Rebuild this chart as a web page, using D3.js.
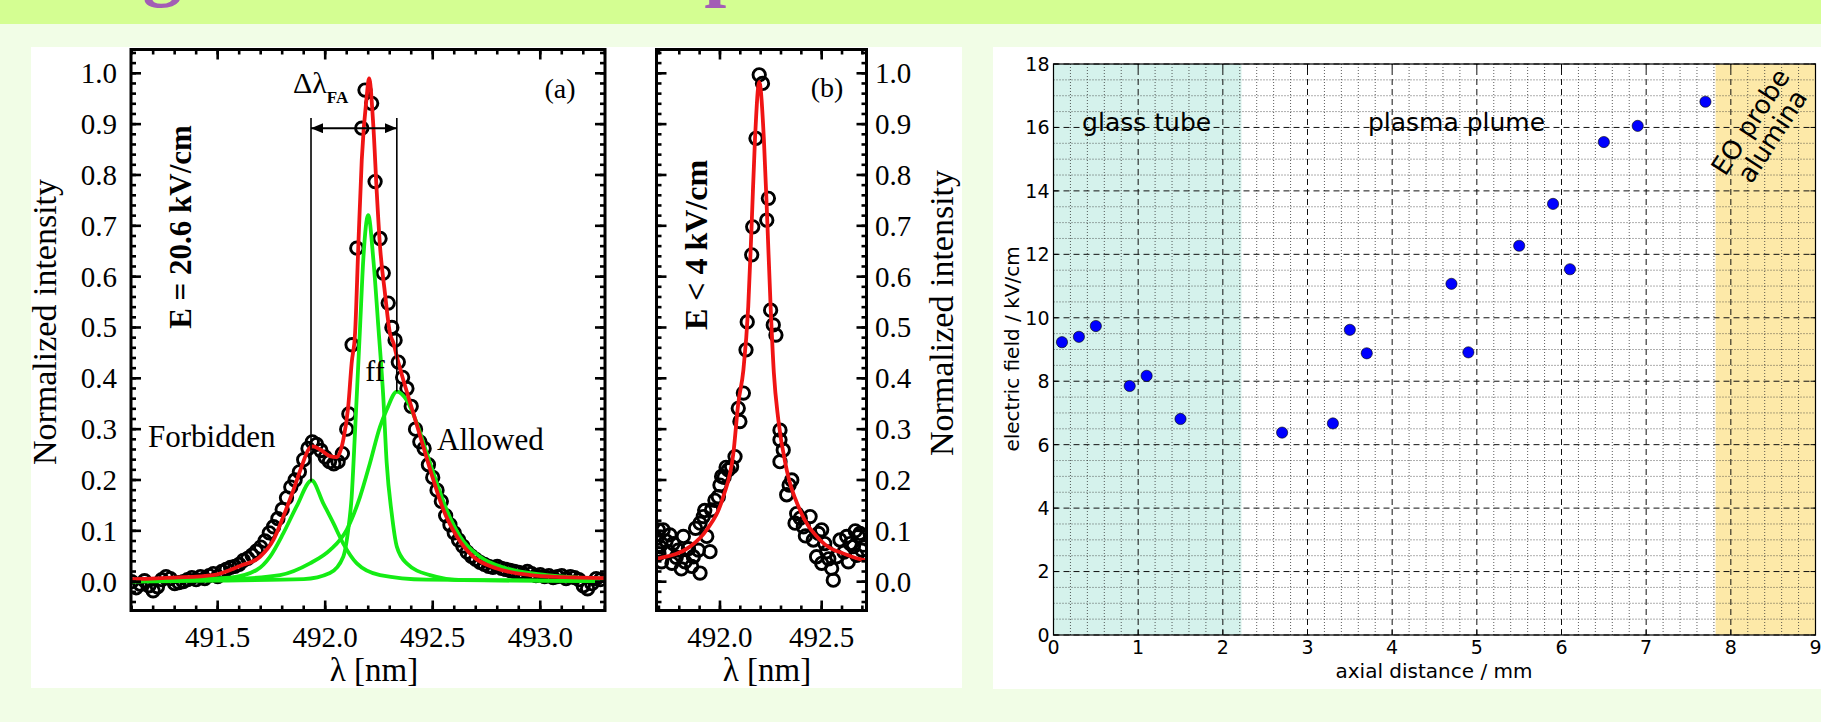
<!DOCTYPE html>
<html><head><meta charset="utf-8">
<script src="https://cdn.jsdelivr.net/npm/d3@7"></script>
<style>html,body{margin:0;padding:0;background:#f1fde6;overflow:hidden}</style>
</head><body><svg id="c" width="1821" height="722"></svg>
<script>
// ---------------- DATA ----------------
const titleText = "Diagnostics: E-field profile";

// Panel (a): measured spectrum (open circles), E = 20.6 kV/cm
const specA_lambda = [491.10,491.12,491.14,491.16,491.18,491.20,491.22,491.24,491.26,491.28,491.30,491.32,491.34,491.36,491.38,491.40,491.42,491.44,491.46,491.48,491.50,491.52,491.54,491.56,491.58,491.60,491.62,491.64,491.66,491.68,491.70,491.72,491.74,491.76,491.78,491.80,491.82,491.84,491.86,491.88,491.90,491.92,491.94,491.96,491.98,492.00,492.02,492.04,492.06,492.08,492.10,492.11,492.125,492.147,492.17,492.185,492.216,492.232,492.255,492.27,492.293,492.31,492.325,492.34,492.36,492.38,492.40,492.42,492.44,492.46,492.48,492.50,492.52,492.54,492.56,492.58,492.60,492.62,492.64,492.66,492.68,492.70,492.72,492.74,492.76,492.78,492.80,492.82,492.84,492.86,492.88,492.90,492.92,492.94,492.96,492.98,493.00,493.02,493.04,493.06,493.08,493.10,493.12,493.14,493.16,493.18,493.20,493.22,493.24,493.26,493.28];
const specA_int = [0.000,-0.012,-0.005,0.002,-0.008,-0.018,-0.010,0.004,0.010,0.006,-0.004,-0.002,0.000,0.004,0.008,0.004,0.010,0.006,0.012,0.016,0.010,0.020,0.024,0.028,0.030,0.034,0.042,0.046,0.052,0.060,0.068,0.080,0.096,0.108,0.124,0.142,0.165,0.186,0.200,0.216,0.240,0.262,0.275,0.270,0.258,0.245,0.236,0.232,0.236,0.252,0.300,0.330,0.466,0.656,0.892,0.967,0.941,0.787,0.675,0.607,0.548,0.500,0.475,0.432,0.402,0.380,0.345,0.300,0.275,0.262,0.230,0.205,0.180,0.158,0.130,0.112,0.096,0.082,0.070,0.058,0.050,0.044,0.038,0.034,0.030,0.028,0.030,0.026,0.024,0.022,0.020,0.018,0.016,0.020,0.016,0.012,0.014,0.010,0.012,0.008,0.010,0.012,0.006,0.010,0.008,0.004,-0.008,-0.014,-0.004,0.006,0.004];

// Panel (a): total fit (red)
const fitA_lambda = [491.10,491.30,491.48,491.604,491.697,491.759,491.805,491.852,491.89,491.921,491.942,491.976,492.022,492.053,492.084,492.107,492.123,492.139,492.154,492.170,492.193,492.204,492.224,492.240,492.255,492.278,492.301,492.317,492.333,492.363,492.41,492.456,492.503,492.55,492.612,492.689,492.798,492.953,493.107,493.30];
const fitA_int = [0.005,0.008,0.013,0.031,0.049,0.082,0.128,0.180,0.226,0.259,0.266,0.260,0.247,0.245,0.279,0.344,0.430,0.490,0.660,0.830,0.955,0.990,0.895,0.764,0.659,0.567,0.489,0.470,0.443,0.397,0.331,0.266,0.200,0.141,0.089,0.049,0.026,0.013,0.009,0.007];

// Panel (a): fit components (green)
const forbidden_lambda = [491.10,491.557,491.681,491.743,491.805,491.867,491.937,491.991,492.038,492.084,492.147,492.255,492.47,493.30];
const forbidden_int = [0.001,0.008,0.023,0.049,0.095,0.148,0.199,0.154,0.115,0.075,0.036,0.013,0.004,0.001];
const ff_lambda = [491.10,491.50,491.90,492.022,492.084,492.107,492.123,492.139,492.162,492.177,492.200,492.224,492.247,492.270,492.286,492.309,492.333,492.379,492.487,492.64,493.30];
const ff_int = [0.000,0.002,0.005,0.017,0.049,0.102,0.167,0.298,0.500,0.633,0.721,0.633,0.502,0.364,0.233,0.135,0.069,0.036,0.013,0.003,0.001];
const allowed_lambda = [491.10,491.557,491.79,491.929,492.022,492.10,492.162,492.208,492.255,492.286,492.333,492.379,492.426,492.472,492.519,492.565,492.627,492.72,492.844,493.03,493.30];
const allowed_int = [0.002,0.005,0.013,0.036,0.062,0.102,0.167,0.233,0.305,0.338,0.374,0.357,0.312,0.253,0.194,0.141,0.089,0.049,0.026,0.013,0.006];

// Panel (b): measured spectrum, E < 4 kV/cm
const specB_lambda = [491.690,491.697,491.700,491.705,491.713,491.721,491.735,491.746,491.754,491.764,491.770,491.785,491.795,491.810,491.820,491.828,491.845,491.861,491.869,491.880,491.894,491.902,491.902,491.918,491.925,491.935,491.951,491.959,491.975,491.992,492.000,492.008,492.020,492.030,492.041,492.057,492.074,492.090,492.098,492.115,492.128,492.134,492.156,492.161,492.177,492.193,492.209,492.230,492.238,492.249,492.262,492.275,492.295,492.295,492.311,492.295,492.328,492.340,492.353,492.369,492.377,492.395,492.410,492.420,492.443,492.459,492.475,492.484,492.500,492.500,492.515,492.525,492.535,492.549,492.557,492.574,492.590,492.610,492.623,492.631,492.640,492.656,492.665,492.672,492.680,492.688,492.697];
const specB_int = [0.085,0.102,0.055,0.069,0.039,0.102,0.080,0.059,0.092,0.036,0.075,0.048,0.062,0.025,0.089,0.039,0.065,0.030,0.049,0.105,0.062,0.017,0.115,0.128,0.140,0.089,0.059,0.141,0.160,0.167,0.190,0.207,0.205,0.225,0.220,0.226,0.246,0.341,0.315,0.371,0.456,0.511,0.643,0.698,0.872,0.997,0.980,0.711,0.754,0.534,0.505,0.485,0.298,0.279,0.259,0.236,0.171,0.190,0.200,0.115,0.134,0.125,0.108,0.090,0.128,0.082,0.049,0.095,0.102,0.036,0.075,0.059,0.045,0.026,0.003,0.049,0.082,0.058,0.089,0.039,0.075,0.069,0.100,0.052,0.089,0.095,0.062];
const fitB_lambda = [491.685,491.697,491.853,491.935,492.016,492.066,492.09,492.115,492.139,492.156,492.172,492.193,492.216,492.233,492.249,492.265,492.287,492.328,492.393,492.492,492.623,492.705,492.722];
const fitB_int = [0.045,0.046,0.069,0.102,0.167,0.253,0.351,0.416,0.541,0.705,0.869,0.983,0.869,0.705,0.541,0.410,0.318,0.220,0.141,0.082,0.053,0.043,0.042];

// Right chart: electric field vs axial distance
const axialDistance = [0.1,0.3,0.5,0.9,1.1,1.5,2.7,3.3,3.5,3.7,4.7,4.9,5.5,5.9,6.1,6.5,6.9,7.7];
const electricField = [9.23,9.40,9.74,7.85,8.17,6.81,6.38,6.67,9.62,8.88,11.07,8.91,12.27,13.59,11.53,15.54,16.05,16.81];
const regionNames = ["glass tube","plasma plume"];
const regionSpans = [[0,2.22],[7.82,9]];

// Tick values / labels
const tickA_x = [491.5,492.0,492.5,493.0];
const tickB_x = [492.0,492.5];
const tickAB_y = [0.0,0.1,0.2,0.3,0.4,0.5,0.6,0.7,0.8,0.9,1.0];
const tickR_x = [0,1,2,3,4,5,6,7,8,9];
const tickR_y = [0,2,4,6,8,10,12,14,16,18];

// ---------------- DRAW ----------------
const svg = d3.select("#c");
const serif = "'Liberation Serif','Times New Roman',serif";
const sans = "'DejaVu Sans',sans-serif";
const zip = (a,b)=>a.map((v,i)=>[v,b[i]]);

svg.append("rect").attr("width",1821).attr("height",722).attr("fill","#f1fde6");
svg.append("rect").attr("width",1821).attr("height",24).attr("fill","#d4fe92");
svg.append("text").text(titleText).attr("x",24).attr("y",-9)
  .attr("font-family",serif).attr("font-weight","bold").attr("font-size",79).attr("fill","#a35db5");

svg.append("rect").attr("x",31).attr("y",47).attr("width",931).attr("height",641).attr("fill","#fff");
svg.append("rect").attr("x",993).attr("y",47).attr("width",828).attr("height",642).attr("fill","#fff");

const defs = svg.append("defs");
defs.append("marker").attr("id","ah").attr("viewBox","0 0 12 10").attr("refX",12).attr("refY",5)
  .attr("markerWidth",12).attr("markerHeight",10).attr("markerUnits","userSpaceOnUse").attr("orient","auto-start-reverse")
  .append("path").attr("d","M0,0 L12,5 L0,10 Z").attr("fill","#000");

const yAB = d3.scaleLinear().domain([-0.0567,1.0468]).range([610.5,49.5]);
const xA = d3.scaleLinear().domain([491.097,493.301]).range([131,605]);
const xB = d3.scaleLinear().domain([491.688,492.7203]).range([656.5,866.5]);

function spectrumPanel(id, x, y, spec, fits) {
  const [x0,x1] = x.range(), [y1,y0] = y.range();
  const g = svg.append("g");
  defs.append("clipPath").attr("id",id).append("rect").attr("x",x0).attr("y",y0).attr("width",x1-x0).attr("height",y1-y0);
  g.append("rect").attr("x",x0).attr("y",y0).attr("width",x1-x0).attr("height",y1-y0).attr("fill","#fff");
  const inner = g.append("g").attr("clip-path",`url(#${id})`);
  inner.selectAll("circle").data(spec).join("circle")
    .attr("cx",d=>x(d[0])).attr("cy",d=>y(d[1])).attr("r",6.2)
    .attr("fill","none").attr("stroke","#000").attr("stroke-width",2.9);
  const line = d3.line().x(d=>x(d[0])).y(d=>y(d[1])).curve(d3.curveMonotoneX);
  fits.forEach(f=>inner.append("path").attr("d",line(f.pts)).attr("fill","none")
    .attr("stroke",f.color).attr("stroke-width",3.8).attr("stroke-linejoin","round"));
  return g;
}

function inwardTicks(g, x, y, xMinor, xMajor, yMinor, yMajor) {
  const [x0,x1] = x.range(), [y1,y0] = y.range();
  const tk = g.append("g").attr("stroke","#000").attr("stroke-width",2.6);
  const add = (vals,len,horiz)=>vals.forEach(v=>{
    if (horiz) {
      const px = x(v);
      tk.append("line").attr("x1",px).attr("x2",px).attr("y1",y1).attr("y2",y1-len);
      tk.append("line").attr("x1",px).attr("x2",px).attr("y1",y0).attr("y2",y0+len);
    } else {
      const py = y(v);
      tk.append("line").attr("y1",py).attr("y2",py).attr("x1",x0).attr("x2",x0+len);
      tk.append("line").attr("y1",py).attr("y2",py).attr("x1",x1).attr("x2",x1-len);
    }
  });
  add(xMinor,5,true); add(xMajor,10,true); add(yMinor,5,false); add(yMajor,10,false);
  g.append("rect").attr("x",x0).attr("y",y0).attr("width",x1-x0).attr("height",y1-y0)
    .attr("fill","none").attr("stroke","#000").attr("stroke-width",3);
}

const yMinorAB = d3.range(-4,106,2).map(v=>v/100);
const GREEN = "#14ec14", RED = "#f01414";

// ---- Panel (a)
const gA = spectrumPanel("clipA", xA, yAB, zip(specA_lambda,specA_int), [
  {pts: zip(forbidden_lambda,forbidden_int), color: GREEN},
  {pts: zip(ff_lambda,ff_int), color: GREEN},
  {pts: zip(allowed_lambda,allowed_int), color: GREEN},
  {pts: zip(fitA_lambda,fitA_int), color: RED}
]);
// Δλ_FA annotation
const lF = 491.934, lA = 492.333;
gA.append("line").attr("x1",xA(lF)).attr("x2",xA(lF)).attr("y1",yAB(0.912)).attr("y2",yAB(0.197)).attr("stroke","#000").attr("stroke-width",1.6);
gA.append("line").attr("x1",xA(lA)).attr("x2",xA(lA)).attr("y1",yAB(0.912)).attr("y2",yAB(0.374)).attr("stroke","#000").attr("stroke-width",1.6);
gA.append("line").attr("x1",xA(lF)).attr("x2",xA(lA)).attr("y1",yAB(0.892)).attr("y2",yAB(0.892))
  .attr("stroke","#000").attr("stroke-width",2).attr("marker-start","url(#ah)").attr("marker-end","url(#ah)");
inwardTicks(gA, xA, yAB, d3.range(4911,4934).map(v=>v/10), tickA_x, yMinorAB, tickAB_y);

const fmt1 = d3.format(".1f");
gA.selectAll("text.yt").data(tickAB_y).join("text").attr("class","yt")
  .attr("x",117).attr("y",d=>yAB(d)).attr("dy","0.34em").attr("text-anchor","end")
  .attr("font-family",serif).attr("font-size",29).text(fmt1);
gA.selectAll("text.xt").data(tickA_x).join("text").attr("class","xt")
  .attr("x",d=>xA(d)).attr("y",647).attr("text-anchor","middle")
  .attr("font-family",serif).attr("font-size",29).text(fmt1);
gA.append("text").attr("x",374).attr("y",681).attr("text-anchor","middle").attr("font-family",serif).attr("font-size",33).text("λ [nm]");
gA.append("text").attr("transform","translate(56,322) rotate(-90)").attr("text-anchor","middle").attr("font-family",serif).attr("font-size",34).text("Normalized intensity");
gA.append("text").attr("transform","translate(191,227) rotate(-90)").attr("text-anchor","middle").attr("font-family",serif).attr("font-weight","bold").attr("font-size",31).text("E = 20.6 kV/cm");
gA.append("text").attr("x",560).attr("y",98).attr("text-anchor","middle").attr("font-family",serif).attr("font-size",28).text("(a)");
gA.append("text").attr("x",148).attr("y",447).attr("font-family",serif).attr("font-size",31).text("Forbidden");
gA.append("text").attr("x",437).attr("y",450).attr("font-family",serif).attr("font-size",31).text("Allowed");
gA.append("text").attr("x",375).attr("y",381).attr("text-anchor","middle").attr("font-family",serif).attr("font-size",30).text("ff");
const dl = gA.append("text").attr("x",293).attr("y",93).attr("font-family",serif).attr("font-size",30);
dl.append("tspan").text("Δλ");
dl.append("tspan").attr("dy",10).attr("font-size",17).attr("font-weight","bold").text("FA");

// ---- Panel (b)
const gB = spectrumPanel("clipB", xB, yAB, zip(specB_lambda,specB_int), [
  {pts: zip(fitB_lambda,fitB_int), color: RED}
]);
inwardTicks(gB, xB, yAB, d3.range(4917,4928).map(v=>v/10), tickB_x, yMinorAB, tickAB_y);
gB.selectAll("text.yt").data(tickAB_y).join("text").attr("class","yt")
  .attr("x",875).attr("y",d=>yAB(d)).attr("dy","0.34em").attr("text-anchor","start")
  .attr("font-family",serif).attr("font-size",29).text(fmt1);
gB.selectAll("text.xt").data(tickB_x).join("text").attr("class","xt")
  .attr("x",d=>xB(d)).attr("y",647).attr("text-anchor","middle")
  .attr("font-family",serif).attr("font-size",29).text(fmt1);
gB.append("text").attr("x",767).attr("y",681).attr("text-anchor","middle").attr("font-family",serif).attr("font-size",33).text("λ [nm]");
gB.append("text").attr("transform","translate(953,313) rotate(-90)").attr("text-anchor","middle").attr("font-family",serif).attr("font-size",34).text("Normalized intensity");
gB.append("text").attr("transform","translate(707,245) rotate(-90)").attr("text-anchor","middle").attr("font-family",serif).attr("font-weight","bold").attr("font-size",32).text("E < 4 kV/cm");
gB.append("text").attr("x",827).attr("y",97).attr("text-anchor","middle").attr("font-family",serif).attr("font-size",28).text("(b)");

// ---- Right chart
const xR = d3.scaleLinear().domain([0,9]).range([1053.5,1815.5]);
const yR = d3.scaleLinear().domain([0,18]).range([635,64]);
const gR = svg.append("g");
const regionColors = ["#d5f2ec","#fde9a8"];
regionSpans.forEach((s,i)=>gR.append("rect").attr("x",xR(s[0])).attr("y",yR(18)).attr("width",xR(s[1])-xR(s[0])).attr("height",yR(0)-yR(18)).attr("fill",regionColors[i]));
const grid = gR.append("g").attr("fill","none");
d3.range(0,46).map(v=>v/5).forEach(v=>{ if (Math.abs(v-Math.round(v))>1e-6) grid.append("line").attr("x1",xR(v)).attr("x2",xR(v)).attr("y1",yR(0)).attr("y2",yR(18)).attr("stroke","#333").attr("stroke-width",0.8).attr("stroke-dasharray","1,2"); });
d3.range(0,37).map(v=>v/2).forEach(v=>{ if (v%2!==0) grid.append("line").attr("y1",yR(v)).attr("y2",yR(v)).attr("x1",xR(0)).attr("x2",xR(9)).attr("stroke","#333").attr("stroke-width",0.8).attr("stroke-dasharray","1,2"); });
tickR_x.forEach(v=>grid.append("line").attr("x1",xR(v)).attr("x2",xR(v)).attr("y1",yR(0)).attr("y2",yR(18)).attr("stroke","#111").attr("stroke-width",1).attr("stroke-dasharray","6,4"));
tickR_y.forEach(v=>grid.append("line").attr("y1",yR(v)).attr("y2",yR(v)).attr("x1",xR(0)).attr("x2",xR(9)).attr("stroke","#111").attr("stroke-width",1).attr("stroke-dasharray","6,4"));

gR.selectAll("circle").data(zip(axialDistance,electricField)).join("circle")
  .attr("cx",d=>xR(d[0])).attr("cy",d=>yR(d[1])).attr("r",5.6)
  .attr("fill","#0000ff").attr("stroke","#000").attr("stroke-width",0.6);

gR.append("rect").attr("x",xR(0)).attr("y",yR(18)).attr("width",xR(9)-xR(0)).attr("height",yR(0)-yR(18))
  .attr("fill","none").attr("stroke","#000").attr("stroke-width",1.2);
const tR = gR.append("g").attr("stroke","#000").attr("stroke-width",1);
tickR_x.forEach(v=>{ tR.append("line").attr("x1",xR(v)).attr("x2",xR(v)).attr("y1",yR(0)).attr("y2",yR(0)-5);
  tR.append("line").attr("x1",xR(v)).attr("x2",xR(v)).attr("y1",yR(18)).attr("y2",yR(18)+5); });
tickR_y.forEach(v=>{ tR.append("line").attr("y1",yR(v)).attr("y2",yR(v)).attr("x1",xR(0)).attr("x2",xR(0)+5);
  tR.append("line").attr("y1",yR(v)).attr("y2",yR(v)).attr("x1",xR(9)).attr("x2",xR(9)-5); });

gR.selectAll("text.yt").data(tickR_y).join("text").attr("class","yt")
  .attr("x",xR(0)-4).attr("y",d=>yR(d)).attr("dy","0.36em").attr("text-anchor","end")
  .attr("font-family",sans).attr("font-size",19).text(d=>d);
gR.selectAll("text.xt").data(tickR_x).join("text").attr("class","xt")
  .attr("x",d=>xR(d)).attr("y",654).attr("text-anchor","middle")
  .attr("font-family",sans).attr("font-size",19).text(d=>d);
gR.append("text").attr("x",1434).attr("y",678).attr("text-anchor","middle").attr("font-family",sans).attr("font-size",20).text("axial distance / mm");
gR.append("text").attr("transform","translate(1019,349) rotate(-90)").attr("text-anchor","middle").attr("font-family",sans).attr("font-size",20).text("electric field / kV/cm");

gR.append("text").attr("x",xR(1.1)).attr("y",yR(15.9)).attr("text-anchor","middle").attr("font-family",sans).attr("font-size",25).text(regionNames[0]);
gR.append("text").attr("x",xR(4.76)).attr("y",yR(15.9)).attr("text-anchor","middle").attr("font-family",sans).attr("font-size",25).text(regionNames[1]);
const eo = gR.append("text").attr("transform",`translate(${xR(8.36)},${yR(15.95)}) rotate(-57)`).attr("text-anchor","middle").attr("font-family",sans).attr("font-size",26);
eo.append("tspan").attr("x",0).attr("y",-4).text("EO probe");
eo.append("tspan").attr("x",0).attr("y",22).text("alumina");
</script></body></html>
